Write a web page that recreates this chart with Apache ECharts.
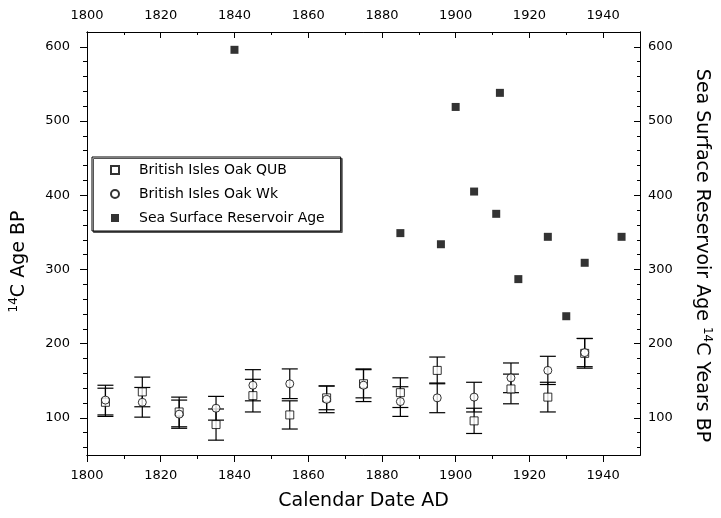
<!DOCTYPE html>
<html><head><meta charset="utf-8">
<script src="https://cdn.jsdelivr.net/npm/echarts@6/dist/echarts.min.js"></script>
<style>html,body{margin:0;padding:0;background:#fff}#c{width:721px;height:518px}</style>
</head><body><div id="c"></div>
<script>
// ---- data ----
const decadeYears = [1805,1815,1825,1835,1845,1855,1865,1875,1885,1895,1905,1915,1925,1935];
const qubValues = [121,135,108,91,130,104,127,146,134,164,96,139,128,187];
const qubErrors = [19,20,20,21,22,19,16,19,20,18,17,20,20,20];
const wkValues  = [124,121,105,113,144,146,125,144,122,127,128,154,164,188];
const wkErrors  = [20,20,19,16,21,20,18,22,20,20,20,20,19,19];
const ssraYears  = [1840,1885,1896,1900,1905,1911,1912,1917,1925,1930,1935,1945];
const ssraValues = [596,349,334,519,405,375,538,287,344,237,309,344];
const xMajorTicks = [1800,1820,1840,1860,1880,1900,1920,1940];
const xMinorTicks = [1810,1830,1850,1870,1890,1910,1930];
const yMajorTicks = [100,200,300,400,500,600];
const yMinorTicks = [60,80,120,140,160,180,220,240,260,280,320,340,360,380,420,440,460,480,520,540,560,580];
const seriesNames = ['British Isles Oak QUB','British Isles Oak Wk','Sea Surface Reservoir Age'];

const FONT = 'DejaVu Sans';
const X_MIN = 1800, X_MAX = 1950, Y_MIN = 50, Y_MAX = 620;
const SQUARE = 'path://M0,0L10,0L10,10L0,10Z';

function errRender(params, api) {
  const x = api.value(0), v = api.value(1), e = api.value(2);
  const t = api.coord([x, v + e]);
  const b = api.coord([x, v - e]);
  const w = 8;
  const style = { stroke: '#000', lineWidth: 1.2, fill: null };
  return { type: 'group', children: [
    { type: 'line', shape: { x1: t[0], y1: t[1], x2: b[0], y2: b[1] }, style },
    { type: 'line', shape: { x1: t[0] - w, y1: t[1], x2: t[0] + w, y2: t[1] }, style },
    { type: 'line', shape: { x1: b[0] - w, y1: b[1], x2: b[0] + w, y2: b[1] }, style }
  ]};
}

const axisLine = { show: true, onZero: false, lineStyle: { color: '#000', width: 1 } };
const lbl = { color: '#000', fontSize: 13, fontFamily: FONT, formatter: v => String(v) };

function xAx(pos, ticks, inside, len, labels, extra) {
  return Object.assign({
    type: 'value', position: pos, min: X_MIN, max: X_MAX,
    axisLine, splitLine: { show: false },
    axisTick: { show: true, inside, length: len, customValues: ticks, lineStyle: { color: '#000', width: 1 } },
    axisLabel: labels ? Object.assign({ customValues: ticks }, lbl, labels) : { show: false }
  }, extra || {});
}
function yAx(pos, ticks, inside, len, labels, extra) {
  return Object.assign({
    type: 'value', position: pos, min: Y_MIN, max: Y_MAX,
    axisLine, splitLine: { show: false },
    axisTick: { show: true, inside, length: len, customValues: ticks, lineStyle: { color: '#000', width: 1 } },
    axisLabel: labels ? Object.assign({ customValues: ticks }, lbl, labels) : { show: false }
  }, extra || {});
}

const TFS = 19;
const richDef = {
  n: { fontSize: TFS, fontFamily: FONT, color: '#000', lineHeight: 23 },
  sup: { fontSize: 12, fontFamily: FONT, color: '#000', lineHeight: 13, verticalAlign: 'top' }
};

const chart = echarts.init(document.getElementById('c'), null, { renderer: 'canvas' });
chart.setOption({
  animation: false,
  backgroundColor: '#fff',
  grid: { left: 85, right: 73, top: 32, bottom: 63, containLabel: false },
  legend: {
    orient: 'vertical', left: 92, top: 157,
    data: [
      { name: seriesNames[0], icon: SQUARE },
      { name: seriesNames[1], icon: 'circle' },
      { name: seriesNames[2], icon: SQUARE }
    ],
    symbolKeepAspect: true,
    itemWidth: 38, itemHeight: 8, itemGap: 10,
    padding: [6, 16, 6, 18],
    backgroundColor: '#fff', borderColor: '#000', borderWidth: 1,
    shadowColor: '#555', shadowOffsetX: 1.5, shadowOffsetY: 1.5, shadowBlur: 0,
    textStyle: { color: '#000', fontSize: 14, fontFamily: FONT },
    selectedMode: false
  },
  xAxis: [
    xAx('bottom', xMajorTicks, false, 7, { margin: 14 }, {
      name: 'Calendar Date AD', nameLocation: 'middle', nameGap: 37,
      nameTextStyle: { color: '#000', fontSize: TFS, fontFamily: FONT }
    }),
    xAx('bottom', xMinorTicks, false, 4, null),
    xAx('top', xMajorTicks, true, 6, { margin: 10 }),
    xAx('top', xMinorTicks, true, 3, null)
  ],
  yAxis: [
    yAx('left', yMajorTicks, false, 7, { margin: 17 }, {
      name: '{sup|14}{n|C Age BP}', nameLocation: 'middle', nameGap: 56, nameRotate: 90,
      nameTextStyle: { color: '#000', fontSize: TFS, fontFamily: FONT, padding: [0, 36, 0, 0], rich: richDef }
    }),
    yAx('left', yMinorTicks, false, 4, null),
    yAx('right', yMajorTicks, true, 6, { margin: 8 }, {
      name: '{n|Sea Surface Reservoir Age }{sup|14}{n|C Years BP}', nameLocation: 'middle', nameGap: 50, nameRotate: -90,
      nameTextStyle: { color: '#000', fontSize: TFS, fontFamily: FONT, padding: [0, 0, 0, 24], rich: richDef }
    }),
    yAx('right', yMinorTicks, true, 3, null)
  ],
  series: [
    { type: 'custom', name: 'qubErr', xAxisIndex: 0, yAxisIndex: 0, renderItem: errRender,
      data: decadeYears.map((y, i) => [y, qubValues[i], qubErrors[i]]), encode: { x: 0, y: 1 }, silent: true, z: 1 },
    { type: 'custom', name: 'wkErr', xAxisIndex: 0, yAxisIndex: 0, renderItem: errRender,
      data: decadeYears.map((y, i) => [y, wkValues[i], wkErrors[i]]), encode: { x: 0, y: 1 }, silent: true, z: 1 },
    { type: 'scatter', name: seriesNames[0], xAxisIndex: 0, yAxisIndex: 0, symbol: 'rect', symbolSize: 8,
      itemStyle: { color: '#fff', borderColor: '#000', borderWidth: 1 },
      data: decadeYears.map((y, i) => [y, qubValues[i]]), z: 3 },
    { type: 'scatter', name: seriesNames[1], xAxisIndex: 0, yAxisIndex: 0, symbol: 'circle', symbolSize: 8,
      itemStyle: { color: '#fff', borderColor: '#000', borderWidth: 1 },
      data: decadeYears.map((y, i) => [y, wkValues[i]]), z: 4 },
    { type: 'scatter', name: seriesNames[2], xAxisIndex: 0, yAxisIndex: 2, symbol: 'rect', symbolSize: 8,
      itemStyle: { color: '#000' },
      data: ssraYears.map((y, i) => [y, ssraValues[i]]), z: 3 }
  ]
});
</script></body></html>
